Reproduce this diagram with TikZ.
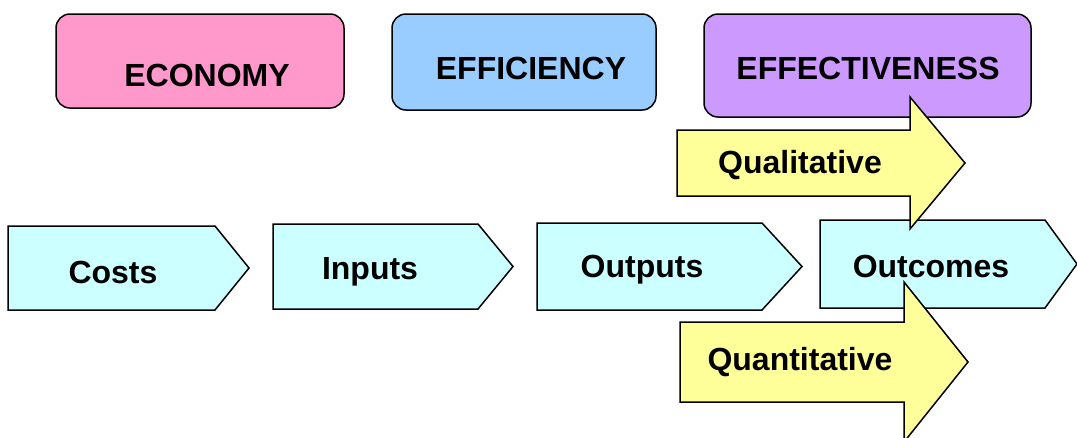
\documentclass[tikz,border=0pt]{standalone}
\usepackage{fontspec}
\setmainfont{Liberation Sans}

\definecolor{econpink}{HTML}{FF99CC}
\definecolor{effblue}{HTML}{99CCFF}
\definecolor{effpurple}{HTML}{CC99FF}
\definecolor{stagecyan}{HTML}{CCFFFF}
\definecolor{measyellow}{HTML}{FFFF99}

\tikzset{
  heading/.style={draw=black, line width=1.5pt, rounded corners=14pt},
  stage/.style={draw=black, line width=1.5pt, fill=stagecyan},
  measure/.style={draw=black, line width=1.5pt, fill=measyellow},
  word/.style={font=\fontsize{32}{32}\selectfont\bfseries, inner sep=0pt}
}

\begin{document}
\begin{tikzpicture}[x=1pt, y=-1pt]
  \useasboundingbox (0,0) rectangle (1077,437);

  % three headings
  \draw[heading, fill=econpink] (56,14) rectangle (344,108);
  \node[word] (economy) at (207,75) {ECONOMY};
  \draw[heading, fill=effblue] (392,14) rectangle (656,110);
  \node[word] (efficiency) at (531,68) {EFFICIENCY};
  \draw[heading, fill=effpurple] (704,14) rectangle (1031,117);
  \node[word] (effectiveness) at (868,68) {EFFECTIVENESS};

  % chain of stages
  \foreach \xa/\xb/\xt/\ya/\yb/\tx/\ty/\name/\txt in
      {8/215/249/226/310/113/272/costs/Costs,
       273/478/513/224/309/370/272/inputs/Inputs,
       537/762/802/223/310/642/270/outputs/Outputs,
       820/1045/1077/220/308/931/266/outcomes/Outcomes}
  {
    \draw[stage] (\xa,\ya) -- (\xb,\ya) -- (\xt,{(\ya+\yb)/2})
      -- (\xb,\yb) -- (\xa,\yb) -- cycle;
    \node[word] (\name) at (\tx,\ty) {\txt};
  }

  % qualitative / quantitative block arrows
  \draw[measure] (677,130) -- (910,130) -- (910,97) -- (965,163)
    -- (910,229) -- (910,196) -- (677,196) -- cycle;
  \node[word] (qualitative) at (800,165) {Qualitative};

  \draw[measure] (680,322) -- (904,322) -- (904,282) -- (968,362)
    -- (904,442) -- (904,402) -- (680,402) -- cycle;
  \node[word] (quantitative) at (800,362) {Quantitative};

\end{tikzpicture}
\end{document}
